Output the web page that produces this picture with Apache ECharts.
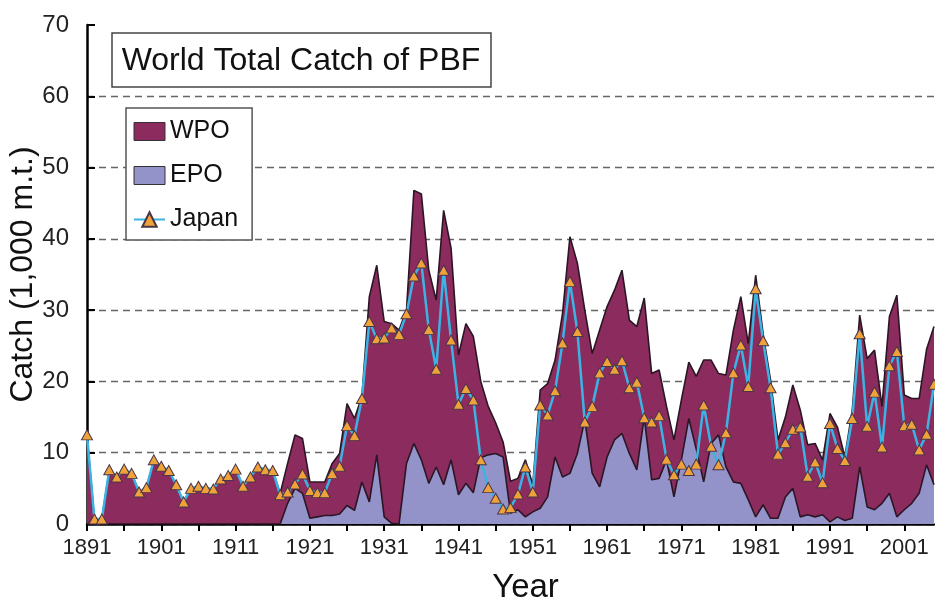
<!DOCTYPE html>
<html>
<head>
<meta charset="utf-8">
<script src="https://cdn.jsdelivr.net/npm/echarts@6/dist/echarts.min.js"></script>
<style>
  html, body { margin: 0; padding: 0; background: #fff; }
  #chart { width: 935px; height: 603px; }
</style>
</head>
<body>
<div id="chart"></div>
<script>
// years 1891 .. 2005 (the right edge of the picture)
const years = []
for (let y = 1891; y <= 2005; y++) years.push(String(y))

// catch in 1,000 m.t.
const epo = [
  0, 0, 0, 0, 0, 0, 0, 0, 0, 0,
  0, 0, 0, 0, 0, 0, 0, 0, 0, 0,
  0, 0, 0, 0, 0, 0, 0, 2.9, 5.0, 4.3,
  0.8, 1.0, 1.2, 1.2, 1.4, 2.6, 1.9, 5.9, 3.1, 9.7,
  1.0, 0.1, 0, 8.5, 11.3, 9.0, 5.7, 8.0, 5.5, 9.0,
  4.1, 5.7, 4.4, 9.3, 9.7, 9.9, 9.4, 1.5, 2.0, 1.0,
  1.7, 2.2, 3.8, 9.4, 6.6, 7.1, 9.9, 14.6, 7.1, 5.2,
  9.4, 11.8, 12.7, 9.9, 7.6, 15.0, 6.2, 6.4, 9.0, 3.8,
  9.0, 14.8, 10.5, 5.9, 11.3, 12.5, 8.0, 5.9, 5.7, 3.4,
  1.0, 2.7, 0.8, 0.8, 3.8, 5.0, 1.0, 1.3, 1.0, 1.3,
  0.3, 1.0, 0.5, 0.8, 8.0, 2.4, 2.0, 2.9, 4.3, 1.0,
  2.0, 2.9, 4.3, 8.3, 5.5
]

const wpo = [
  12.5, 0.7, 0.7, 7.6, 6.6, 7.7, 7.1, 4.5, 5.1, 9.0,
  8.1, 7.5, 5.5, 3.1, 5.0, 5.3, 5.0, 4.9, 6.3, 6.8,
  7.7, 5.3, 6.6, 8.0, 7.6, 7.5, 4.3, 5.6, 7.5, 7.7,
  5.1, 4.9, 4.7, 7.3, 8.5, 14.3, 12.9, 12.0, 28.8, 26.6,
  27.4, 28.0, 27.2, 21.5, 35.5, 37.3, 29.9, 23.4, 38.5, 29.7,
  19.6, 22.4, 21.9, 10.7, 6.8, 4.3, 2.1, 4.5, 4.4, 8.0,
  3.8, 16.6, 15.9, 13.6, 22.9, 33.2, 26.7, 15.4, 16.8, 22.0,
  21.1, 21.0, 22.9, 18.7, 20.1, 16.7, 14.9, 15.2, 7.5, 8.0,
  8.4, 7.9, 10.2, 17.1, 11.7, 8.6, 12.9, 21.3, 26.2, 21.9,
  33.9, 24.0, 19.4, 11.0, 11.2, 14.5, 15.0, 9.8, 10.3, 7.7,
  15.2, 12.6, 8.9, 15.2, 21.3, 20.8, 22.4, 13.6, 24.8, 31.1,
  16.1, 14.7, 13.3, 16.2, 22.2
]

const japan = [
  12.5, 0.7, 0.7, 7.6, 6.6, 7.7, 7.1, 4.5, 5.1, 9.0,
  8.1, 7.5, 5.5, 3.1, 5.0, 5.3, 5.0, 4.9, 6.3, 6.8,
  7.7, 5.3, 6.6, 8.0, 7.6, 7.5, 4.1, 4.5, 5.6, 7.0,
  4.7, 4.4, 4.4, 7.1, 8.1, 13.8, 12.4, 17.6, 28.4, 26.0,
  26.1, 27.5, 26.6, 29.5, 34.8, 36.6, 27.3, 21.7, 35.6, 25.8,
  16.8, 19.0, 17.4, 9.0, 5.1, 3.6, 2.1, 2.3, 4.2, 8.0,
  4.5, 16.7, 15.3, 18.7, 25.4, 34.0, 27.0, 14.3, 16.5, 21.2,
  22.8, 21.7, 22.9, 19.1, 19.9, 14.9, 14.3, 15.2, 9.1, 6.9,
  8.4, 7.5, 8.4, 16.7, 10.9, 8.3, 12.8, 21.2, 25.1, 19.3,
  33.0, 25.7, 19.1, 9.8, 11.4, 13.3, 13.6, 6.7, 8.7, 5.8,
  14.1, 10.6, 8.9, 14.8, 26.7, 13.7, 18.5, 10.8, 22.2, 24.2,
  13.8, 14.0, 10.4, 12.6, 19.6
]

const wpoColor = '#8c2b5e'
const epoColor = '#9392c9'
const edgeColor = '#2a1624'

let option = {
  animation: false,
  grid: {
    left: 87,
    right: 1,
    top: 25,
    bottom: 79,
    outerBoundsMode: 'none'
  },
  legend: {
    orient: 'vertical',
    left: 126,
    top: 108,
    padding: [11, 14, 8, 7],
    itemGap: 19,
    itemWidth: 31,
    itemHeight: 18,
    backgroundColor: '#fff',
    borderColor: '#555',
    borderWidth: 1.5,
    textStyle: {
      fontFamily: 'Liberation Sans',
      fontSize: 25,
      lineHeight: 18,
      color: '#111'
    },
    data: [
      {name: 'WPO', icon: 'rect', itemStyle: {color: wpoColor, borderColor: '#333', borderWidth: 1}},
      {name: 'EPO', icon: 'rect', itemStyle: {color: epoColor, borderColor: '#333', borderWidth: 1}},
      {name: 'Japan'}
    ]
  },
  graphic: [
    {
      type: 'rect',
      shape: {x: 112, y: 33, width: 379, height: 54},
      style: {fill: '#fff', stroke: '#444', lineWidth: 1.5},
      z: 100
    },
    {
      type: 'text',
      x: 301,
      y: 61,
      style: {
        text: 'World Total Catch of PBF',
        fontFamily: 'Liberation Sans',
        fontSize: 32,
        fill: '#111',
        align: 'center',
        verticalAlign: 'middle'
      },
      z: 101
    }
  ],
  xAxis: {
    type: 'category',
    data: years,
    boundaryGap: false,
    name: 'Year',
    nameLocation: 'middle',
    nameGap: 47,
    nameTextStyle: {
      fontFamily: 'Liberation Sans',
      fontSize: 33,
      color: '#111',
      padding: [0, 0, 0, 30]
    },
    axisLine: {lineStyle: {color: '#000', width: 2.5}},
    axisTick: {interval: 4, length: 7, lineStyle: {color: '#000', width: 2}},
    axisLabel: {
      interval: 9,
      margin: 13,
      fontFamily: 'Liberation Sans',
      fontSize: 22,
      color: '#222'
    },
    splitLine: {show: false}
  },
  yAxis: {
    type: 'value',
    min: 0,
    max: 70,
    interval: 10,
    name: 'Catch (1,000 m.t.)',
    nameLocation: 'middle',
    nameGap: 48,
    nameMoveOverlap: false,
    nameTextStyle: {
      fontFamily: 'Liberation Sans',
      fontSize: 32,
      color: '#111'
    },
    axisLine: {show: true, lineStyle: {color: '#000', width: 2.5}},
    axisTick: {show: true, inside: true, length: 8, lineStyle: {color: '#000', width: 2}},
    axisLabel: {
      margin: 18,
      fontFamily: 'Liberation Sans',
      fontSize: 24,
      color: '#222'
    },
    splitLine: {
      lineStyle: {
        // no dashed line along the top edge (70)
        color: ['#666', '#666', '#666', '#666', '#666', '#666', '#666', 'rgba(0,0,0,0)'],
        type: [7, 5],
        width: 1.3
      }
    }
  },
  series: [
    {
      name: 'EPO',
      type: 'line',
      stack: 'catch',
      data: epo,
      showSymbol: false,
      color: epoColor,
      lineStyle: {color: edgeColor, width: 1.6},
      areaStyle: {color: epoColor, opacity: 1},
      z: 2
    },
    {
      name: 'WPO',
      type: 'line',
      stack: 'catch',
      data: wpo,
      showSymbol: false,
      color: wpoColor,
      lineStyle: {color: edgeColor, width: 1.6},
      areaStyle: {color: wpoColor, opacity: 1},
      z: 1
    },
    {
      name: 'Japan',
      type: 'line',
      data: japan,
      symbol: 'triangle',
      symbolSize: [11, 10],
      showAllSymbol: true,
      color: '#3bb4e4',
      lineStyle: {color: '#3bb4e4', width: 2.5},
      itemStyle: {color: '#f0a23a', borderColor: '#4a3548', borderWidth: 1},
      z: 3
    }
  ]
}

let chart = echarts.init(document.getElementById('chart'))
chart.setOption(option)
</script>
</body>
</html>
